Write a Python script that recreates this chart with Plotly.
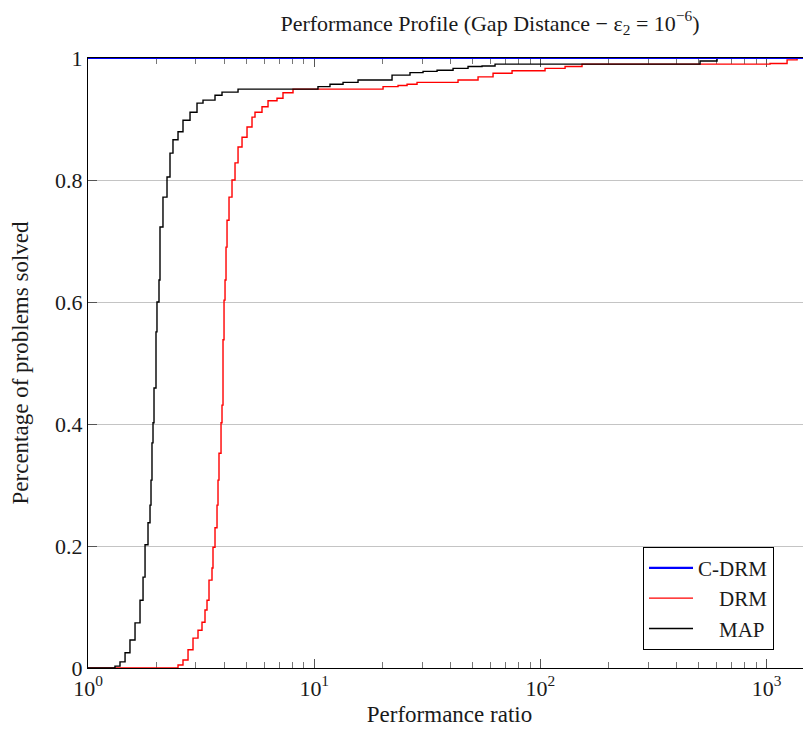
import plotly.graph_objects as go

# Performance ratios (tau) and fraction of problems solved
cdrm_x = [1.0, 1600.0]
cdrm_y = [1.0, 1.0]

drm_x = [1.0, 2.375, 2.500, 2.630, 2.768, 2.912, 3.064, 3.191, 3.290, 3.358, 3.427, 3.533,
         3.569, 3.643, 3.718, 3.756, 3.794, 3.873, 3.912, 3.952, 3.993, 4.034, 4.075, 4.117,
         4.201, 4.331, 4.466, 4.605, 4.796, 5.046, 5.309, 5.473, 5.877, 6.249, 6.847, 7.277,
         8.059, 20.15, 23.47, 25.73, 28.48, 43.22, 52.99, 61.73, 74.90, 104.8, 128.5, 152.7,
         1035.0, 1231.0, 1363.0, 1600.0]
drm_y = [0.0, 0.0, 0.005, 0.013, 0.030, 0.049, 0.062, 0.075, 0.095, 0.111, 0.144, 0.164,
         0.198, 0.230, 0.267, 0.308, 0.352, 0.402, 0.431, 0.538, 0.603, 0.636, 0.690, 0.734,
         0.772, 0.800, 0.828, 0.854, 0.870, 0.887, 0.903, 0.911, 0.920, 0.930, 0.934, 0.943,
         0.949, 0.953, 0.955, 0.957, 0.960, 0.964, 0.969, 0.975, 0.979, 0.983, 0.986, 0.990,
         0.991, 0.997, 1.0, 1.0]

map_x = [1.0, 1.251, 1.316, 1.385, 1.458, 1.533, 1.614, 1.698, 1.751, 1.787, 1.842, 1.880,
         1.899, 1.918, 1.938, 1.958, 1.998, 2.018, 2.060, 2.081, 2.145, 2.235, 2.304, 2.375,
         2.500, 2.630, 2.825, 3.033, 3.224, 3.643, 3.912, 4.605, 10.39, 11.74, 13.41, 15.62,
         22.08, 26.51, 30.27, 34.91, 41.09, 47.86, 55.19, 63.00, 71.18, 507.6, 603.5, 786.7,
         1600.0]
map_y = [0.0, 0.0, 0.003, 0.010, 0.025, 0.046, 0.074, 0.111, 0.149, 0.202, 0.238, 0.267,
         0.308, 0.369, 0.402, 0.459, 0.551, 0.600, 0.636, 0.723, 0.772, 0.805, 0.844, 0.866,
         0.879, 0.898, 0.911, 0.926, 0.931, 0.939, 0.944, 0.949, 0.953, 0.957, 0.960, 0.964,
         0.972, 0.976, 0.978, 0.980, 0.983, 0.986, 0.987, 0.990, 0.990, 0.995, 1.0, 1.0,
         1.0]

x_tickvals = [1, 10, 100, 1000]
x_ticktext = ["10<sup>0</sup>", "10<sup>1</sup>", "10<sup>2</sup>", "10<sup>3</sup>"]
y_tickvals = [0, 0.2, 0.4, 0.6, 0.8, 1]
y_ticktext = ["0", "0.2", "0.4", "0.6", "0.8", "1"]

FONT = "Liberation Serif"
TXT = "#1a1a1a"
SP = "\u2002\u2002"

fig = go.Figure()
fig.add_trace(go.Scatter(x=drm_x, y=drm_y, mode="lines", name=SP + "DRM", legendrank=2,
                         legendgroup="b",
                         line=dict(color="#ff0000", width=1.4, shape="hv")))
fig.add_trace(go.Scatter(x=map_x, y=map_y, mode="lines", name=SP + "MAP", legendrank=3,
                         legendgroup="c",
                         line=dict(color="#000000", width=1.4, shape="hv")))
fig.add_trace(go.Scatter(x=cdrm_x, y=cdrm_y, mode="lines", name="C-DRM", legendrank=1,
                         legendgroup="a",
                         line=dict(color="#0000ff", width=2.2, shape="hv")))

fig.update_layout(
    width=811, height=735,
    margin=dict(l=80, r=8, t=50, b=75),
    paper_bgcolor="white", plot_bgcolor="white",
    font=dict(family=FONT, size=21, color=TXT),
    title=dict(text="Performance Profile (Gap Distance − ε<sub>2</sub> = 10<sup>−6</sup>)",
               x=482 / 811, xanchor="center",
               y=1 - 15 / 735, yref="container", yanchor="middle",
               font=dict(family=FONT, size=22, color=TXT)),
    showlegend=True,
    legend=dict(x=(635 - 80) / 723, xanchor="left", y=0.03, yanchor="bottom",
                bgcolor="white", bordercolor="#000000", borderwidth=1,
                font=dict(family=FONT, size=21, color=TXT),
                tracegroupgap=0, itemwidth=44),
)

fig.update_xaxes(
    type="log", range=[0, 3.196], automargin=False,
    tickvals=x_tickvals, ticktext=x_ticktext,
    showgrid=False, zeroline=False,
    showline=True, linecolor="#000000", linewidth=1.2, mirror="ticks",
    ticks="inside", ticklen=9, tickcolor="#555555", tickwidth=1,
    minor=dict(ticks="inside", ticklen=6, tickcolor="#777777", dtick="D1", showgrid=False),
    layer="below traces",
    title=dict(text="Performance ratio", standoff=6,
               font=dict(family=FONT, size=23, color=TXT)),
    tickfont=dict(family=FONT, size=22, color=TXT),
)
fig.update_yaxes(
    range=[0, 1], automargin=False,
    tickvals=y_tickvals, ticktext=y_ticktext,
    showgrid=True, gridcolor="#c4c4c4", gridwidth=1, zeroline=False,
    showline=True, linecolor="#000000", linewidth=1.2, mirror=False,
    ticks="inside", ticklen=9, tickcolor="#555555",
    layer="below traces",
    title=dict(text="Percentage of problems solved", standoff=22,
               font=dict(family=FONT, size=23, color=TXT)),
    tickfont=dict(family=FONT, size=22, color=TXT),
)

fig.write_html("out.html")
